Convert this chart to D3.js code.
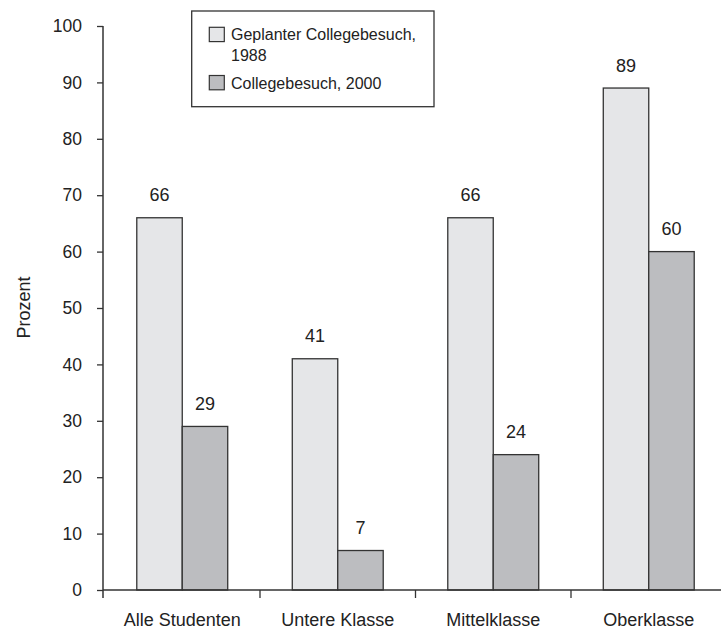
<!DOCTYPE html>
<html>
<head>
<meta charset="utf-8">
<script src="https://cdn.jsdelivr.net/npm/d3@7"></script>
<style>
  html, body { margin: 0; padding: 0; background: #fff; }
  svg { display: block; font-family: "Liberation Sans", Arial, sans-serif; }
</style>
</head>
<body>
<svg id="chart" width="721" height="629"></svg>
<script>
// College attendance by social class (percent)
const categories = ["Alle Studenten", "Untere Klasse", "Mittelklasse", "Oberklasse"];
const seriesNames = ["Geplanter Collegebesuch, 1988", "Collegebesuch, 2000"];
const planned1988 = [66, 41, 66, 89];
const attended2000 = [29, 7, 24, 60];
const yTicks = [0, 10, 20, 30, 40, 50, 60, 70, 80, 90, 100];

const fills = ["#e5e6e8", "#bcbdc0"];
const ink = "#222";
const strokeCol = "#333";

const svg = d3.select("#chart");

const axisX = 103;       // position of the vertical axis
const baseY = 590;       // baseline (value 0)
const topY = 26;         // value 100

const y = d3.scaleLinear().domain([0, 100]).range([baseY, topY]);
const x0 = d3.scaleBand().domain(categories).range([104.5, 726.5]).paddingInner(0).paddingOuter(0);
const x1 = d3.scaleBand().domain(seriesNames).range([0, x0.bandwidth()]).paddingInner(0).paddingOuter(0.71);

const rows = categories.map((c, i) => ({
  cat: c,
  vals: [
    { s: seriesNames[0], v: planned1988[i], k: 0 },
    { s: seriesNames[1], v: attended2000[i], k: 1 }
  ]
}));

// Bars
const groups = svg.append("g").selectAll("g")
  .data(rows).join("g")
  .attr("transform", d => `translate(${x0(d.cat)},0)`);

groups.selectAll("rect")
  .data(d => d.vals).join("rect")
  .attr("x", d => x1(d.s))
  .attr("y", d => y(d.v))
  .attr("width", x1.bandwidth())
  .attr("height", d => y(0) - y(d.v))
  .attr("fill", d => fills[d.k])
  .attr("stroke", strokeCol)
  .attr("stroke-width", 1.3);

// Value labels
groups.selectAll("text")
  .data(d => d.vals).join("text")
  .attr("x", d => x1(d.s) + x1.bandwidth() / 2)
  .attr("y", d => y(d.v) - 16.5)
  .attr("text-anchor", "middle")
  .attr("font-size", 18)
  .attr("fill", ink)
  .text(d => d.v);

// Y axis
const yAxis = d3.axisLeft(y).tickValues(yTicks).tickSize(6).tickSizeOuter(0).tickPadding(15);
const gy = svg.append("g").attr("transform", `translate(${axisX},0)`).call(yAxis);
gy.select(".domain").remove();
gy.selectAll(".tick line").attr("stroke", strokeCol).attr("stroke-width", 1.3);
gy.selectAll(".tick text")
  .attr("font-size", 17.5)
  .attr("font-family", "Liberation Sans, Arial, sans-serif")
  .attr("fill", ink);
gy.append("line")
  .attr("x1", 0).attr("x2", 0)
  .attr("y1", y(100)).attr("y2", baseY + 8)
  .attr("stroke", strokeCol).attr("stroke-width", 1.5);

// X axis: baseline plus separators between categories
const gx = svg.append("g");
gx.append("line")
  .attr("x1", axisX).attr("x2", 721)
  .attr("y1", baseY).attr("y2", baseY)
  .attr("stroke", strokeCol).attr("stroke-width", 1.5);
gx.selectAll("line.sep")
  .data(categories.slice(1)).join("line")
  .attr("class", "sep")
  .attr("x1", d => x0(d)).attr("x2", d => x0(d))
  .attr("y1", baseY).attr("y2", baseY + 8)
  .attr("stroke", strokeCol).attr("stroke-width", 1.3);
gx.selectAll("text")
  .data(categories).join("text")
  .attr("x", d => x0(d) + x0.bandwidth() / 2)
  .attr("y", 626)
  .attr("text-anchor", "middle")
  .attr("font-size", 18)
  .attr("fill", ink)
  .text(d => d);

// Y axis title
svg.append("text")
  .attr("transform", `translate(30,307.5) rotate(-90)`)
  .attr("text-anchor", "middle")
  .attr("font-size", 18)
  .attr("fill", ink)
  .text("Prozent");

// Legend
const lg = svg.append("g");
lg.append("rect")
  .attr("x", 191.7).attr("y", 11)
  .attr("width", 242.3).attr("height", 95.7)
  .attr("fill", "#fff").attr("stroke", strokeCol).attr("stroke-width", 1.3);
const legendItems = [
  { lines: ["Geplanter Collegebesuch,", "1988"], k: 0, sy: 27.3, ty: 40 },
  { lines: ["Collegebesuch, 2000"], k: 1, sy: 75.5, ty: 89.3 }
];
legendItems.forEach(it => {
  lg.append("rect")
    .attr("x", 209.3).attr("y", it.sy)
    .attr("width", 15).attr("height", 14.3)
    .attr("fill", fills[it.k]).attr("stroke", strokeCol).attr("stroke-width", 1.2);
  it.lines.forEach((ln, j) => {
    lg.append("text")
      .attr("x", 231).attr("y", it.ty + j * 20.7)
      .attr("font-size", 16)
      .attr("fill", ink)
      .text(ln);
  });
});
</script>
</body>
</html>
